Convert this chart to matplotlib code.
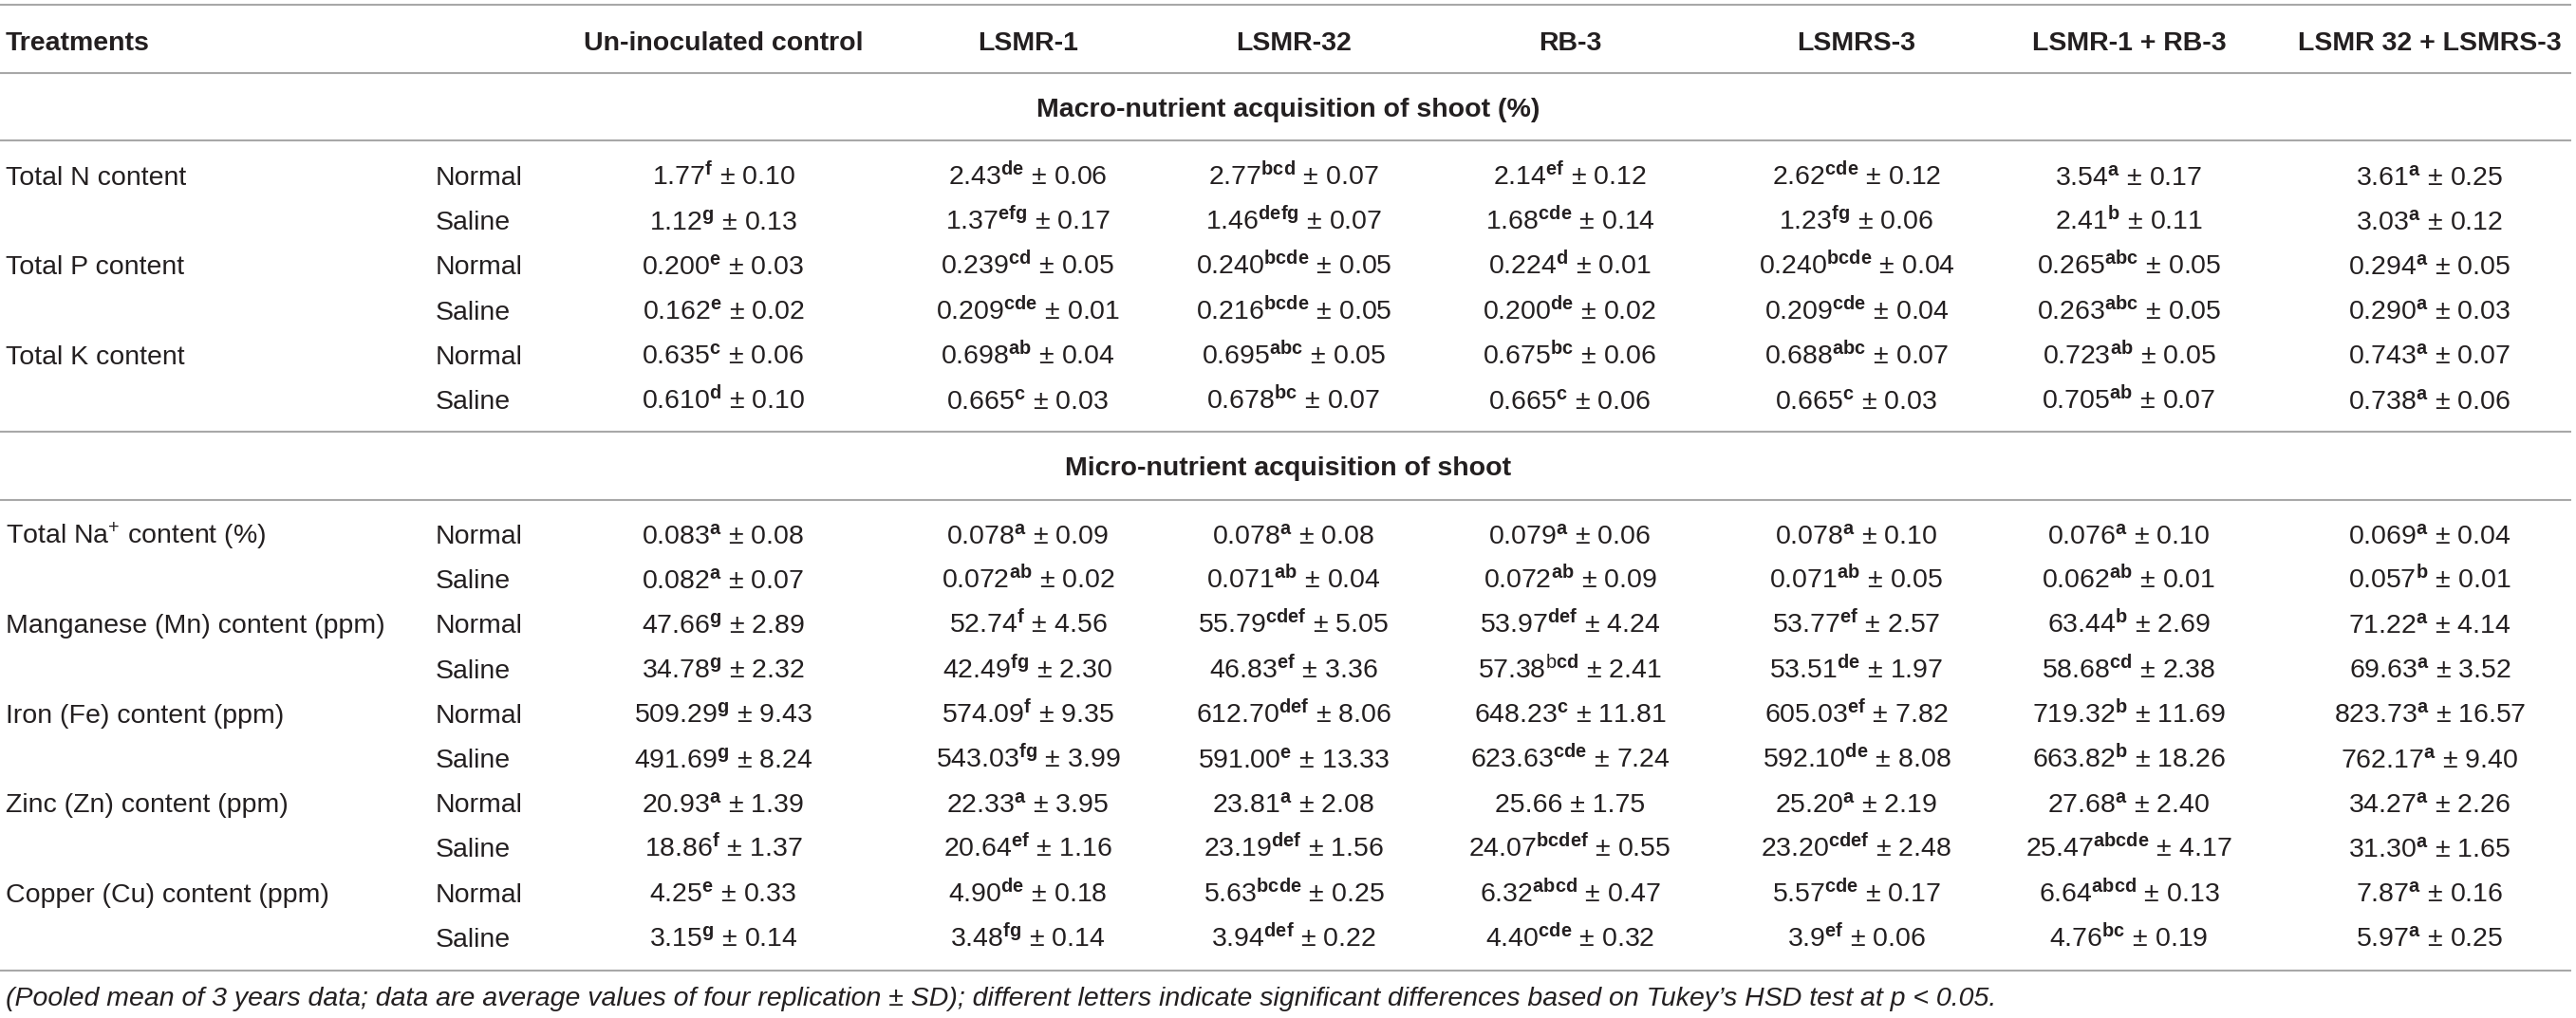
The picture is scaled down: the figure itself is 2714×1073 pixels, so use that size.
import matplotlib
matplotlib.use('Agg')
import matplotlib.pyplot as plt

plt.rcParams['font.family'] = ['Liberation Sans', 'DejaVu Sans']
plt.rcParams['mathtext.fontset'] = 'custom'
plt.rcParams['mathtext.rm'] = 'Liberation Sans'
plt.rcParams['mathtext.bf'] = 'Liberation Sans:bold'
plt.rcParams['mathtext.it'] = 'Liberation Sans:italic'

treatments = ['Un-inoculated control', 'LSMR-1', 'LSMR-32', 'RB-3', 'LSMRS-3',
              'LSMR-1 + RB-3', 'LSMR 32 + LSMRS-3']
conditions = ['Normal', 'Saline']

macro_title = 'Macro-nutrient acquisition of shoot (%)'
macro_params = ['Total N content', 'Total P content', 'Total K content']
micro_title = 'Micro-nutrient acquisition of shoot'
micro_params = ['Total Na$^{+}$ content (%)', 'Manganese (Mn) content (ppm)',
                'Iron (Fe) content (ppm)', 'Zinc (Zn) content (ppm)',
                'Copper (Cu) content (ppm)']

# (mean, letters, sd); "b|cd" = b printed regular, cd bold
n_normal = [('1.77', 'f', '0.10'), ('2.43', 'de', '0.06'), ('2.77', 'bcd', '0.07'),
            ('2.14', 'ef', '0.12'), ('2.62', 'cde', '0.12'), ('3.54', 'a', '0.17'),
            ('3.61', 'a', '0.25')]
n_saline = [('1.12', 'g', '0.13'), ('1.37', 'efg', '0.17'), ('1.46', 'defg', '0.07'),
            ('1.68', 'cde', '0.14'), ('1.23', 'fg', '0.06'), ('2.41', 'b', '0.11'),
            ('3.03', 'a', '0.12')]
p_normal = [('0.200', 'e', '0.03'), ('0.239', 'cd', '0.05'), ('0.240', 'bcde', '0.05'),
            ('0.224', 'd', '0.01'), ('0.240', 'bcde', '0.04'), ('0.265', 'abc', '0.05'),
            ('0.294', 'a', '0.05')]
p_saline = [('0.162', 'e', '0.02'), ('0.209', 'cde', '0.01'), ('0.216', 'bcde', '0.05'),
            ('0.200', 'de', '0.02'), ('0.209', 'cde', '0.04'), ('0.263', 'abc', '0.05'),
            ('0.290', 'a', '0.03')]
k_normal = [('0.635', 'c', '0.06'), ('0.698', 'ab', '0.04'), ('0.695', 'abc', '0.05'),
            ('0.675', 'bc', '0.06'), ('0.688', 'abc', '0.07'), ('0.723', 'ab', '0.05'),
            ('0.743', 'a', '0.07')]
k_saline = [('0.610', 'd', '0.10'), ('0.665', 'c', '0.03'), ('0.678', 'bc', '0.07'),
            ('0.665', 'c', '0.06'), ('0.665', 'c', '0.03'), ('0.705', 'ab', '0.07'),
            ('0.738', 'a', '0.06')]

na_normal = [('0.083', 'a', '0.08'), ('0.078', 'a', '0.09'), ('0.078', 'a', '0.08'),
             ('0.079', 'a', '0.06'), ('0.078', 'a', '0.10'), ('0.076', 'a', '0.10'),
             ('0.069', 'a', '0.04')]
na_saline = [('0.082', 'a', '0.07'), ('0.072', 'ab', '0.02'), ('0.071', 'ab', '0.04'),
             ('0.072', 'ab', '0.09'), ('0.071', 'ab', '0.05'), ('0.062', 'ab', '0.01'),
             ('0.057', 'b', '0.01')]
mn_normal = [('47.66', 'g', '2.89'), ('52.74', 'f', '4.56'), ('55.79', 'cdef', '5.05'),
             ('53.97', 'def', '4.24'), ('53.77', 'ef', '2.57'), ('63.44', 'b', '2.69'),
             ('71.22', 'a', '4.14')]
mn_saline = [('34.78', 'g', '2.32'), ('42.49', 'fg', '2.30'), ('46.83', 'ef', '3.36'),
             ('57.38', 'b|cd', '2.41'), ('53.51', 'de', '1.97'), ('58.68', 'cd', '2.38'),
             ('69.63', 'a', '3.52')]
fe_normal = [('509.29', 'g', '9.43'), ('574.09', 'f', '9.35'), ('612.70', 'def', '8.06'),
             ('648.23', 'c', '11.81'), ('605.03', 'ef', '7.82'), ('719.32', 'b', '11.69'),
             ('823.73', 'a', '16.57')]
fe_saline = [('491.69', 'g', '8.24'), ('543.03', 'fg', '3.99'), ('591.00', 'e', '13.33'),
             ('623.63', 'cde', '7.24'), ('592.10', 'de', '8.08'), ('663.82', 'b', '18.26'),
             ('762.17', 'a', '9.40')]
zn_normal = [('20.93', 'a', '1.39'), ('22.33', 'a', '3.95'), ('23.81', 'a', '2.08'),
             ('25.66', '', '1.75'), ('25.20', 'a', '2.19'), ('27.68', 'a', '2.40'),
             ('34.27', 'a', '2.26')]
zn_saline = [('18.86', 'f', '1.37'), ('20.64', 'ef', '1.16'), ('23.19', 'def', '1.56'),
             ('24.07', 'bcdef', '0.55'), ('23.20', 'cdef', '2.48'), ('25.47', 'abcde', '4.17'),
             ('31.30', 'a', '1.65')]
cu_normal = [('4.25', 'e', '0.33'), ('4.90', 'de', '0.18'), ('5.63', 'bcde', '0.25'),
             ('6.32', 'abcd', '0.47'), ('5.57', 'cde', '0.17'), ('6.64', 'abcd', '0.13'),
             ('7.87', 'a', '0.16')]
cu_saline = [('3.15', 'g', '0.14'), ('3.48', 'fg', '0.14'), ('3.94', 'def', '0.22'),
             ('4.40', 'cde', '0.32'), ('3.9', 'ef', '0.06'), ('4.76', 'bc', '0.19'),
             ('5.97', 'a', '0.25')]

macro_rows = [(n_normal, n_saline), (p_normal, p_saline), (k_normal, k_saline)]
micro_rows = [(na_normal, na_saline), (mn_normal, mn_saline), (fe_normal, fe_saline),
              (zn_normal, zn_saline), (cu_normal, cu_saline)]

footnote = ('(Pooled mean of 3 years data; data are average values of four replication '
            '\u00b1 SD); different letters indicate significant differences based on '
            'Tukey\u2019s HSD test at p < 0.05.')

W, H = 2714, 1073
fig = plt.figure(figsize=(W / 100, H / 100), dpi=100)
ax = fig.add_axes([0, 0, 1, 1])
ax.set_xlim(0, W)
ax.set_ylim(H, 0)
ax.axis('off')

fs = 20.5
txt = '#231f20'
rule = '#a8a8a8'
col_x = [762, 1083, 1363, 1654, 1956, 2243, 2560]
label_x = 6
cond_x = 459
pitch = 47.2
base = 10  # baseline offset from visual centre


def cell(mean, letters, sd):
    if not letters:
        return mean + ' \u00b1 ' + sd
    if '|' in letters:
        reg, bold = letters.split('|')
        sup = r'\mathrm{%s}\mathbf{%s}' % (reg, bold)
    else:
        sup = r'\mathbf{%s}' % letters
    return '$\\mathrm{%s}^{%s}$ \u00b1 %s' % (mean, sup, sd)


def hline(y):
    ax.plot([0, 2709], [y, y], color=rule, lw=1.5, solid_capstyle='butt')


def put(x, y, s, ha='left', **kw):
    ax.text(x, y + base, s, ha=ha, va='baseline', fontsize=fs, color=txt, **kw)


# header
hline(5)
put(label_x, 43, 'Treatments', fontweight='bold')
for x, t in zip(col_x, treatments):
    put(x, 43, t, ha='center', fontweight='bold')
hline(77)


def section(title, y_title, y_line, y_first, params, rows):
    put(1357, y_title, title, ha='center', fontweight='bold')
    hline(y_line)
    y = y_first
    for name, pair in zip(params, rows):
        put(label_x, y, name)
        for cond, vals in zip(conditions, pair):
            put(cond_x, y, cond)
            for x, (m, l, s) in zip(col_x, vals):
                put(x, y, cell(m, l, s), ha='center')
            y += pitch
    return y


section(macro_title, 113, 148, 185, macro_params, macro_rows)
hline(455)
section(micro_title, 491, 527, 563, micro_params, micro_rows)
hline(1023)
put(label_x, 1050, footnote, fontstyle='italic')

fig.savefig('out.png', dpi=100)
